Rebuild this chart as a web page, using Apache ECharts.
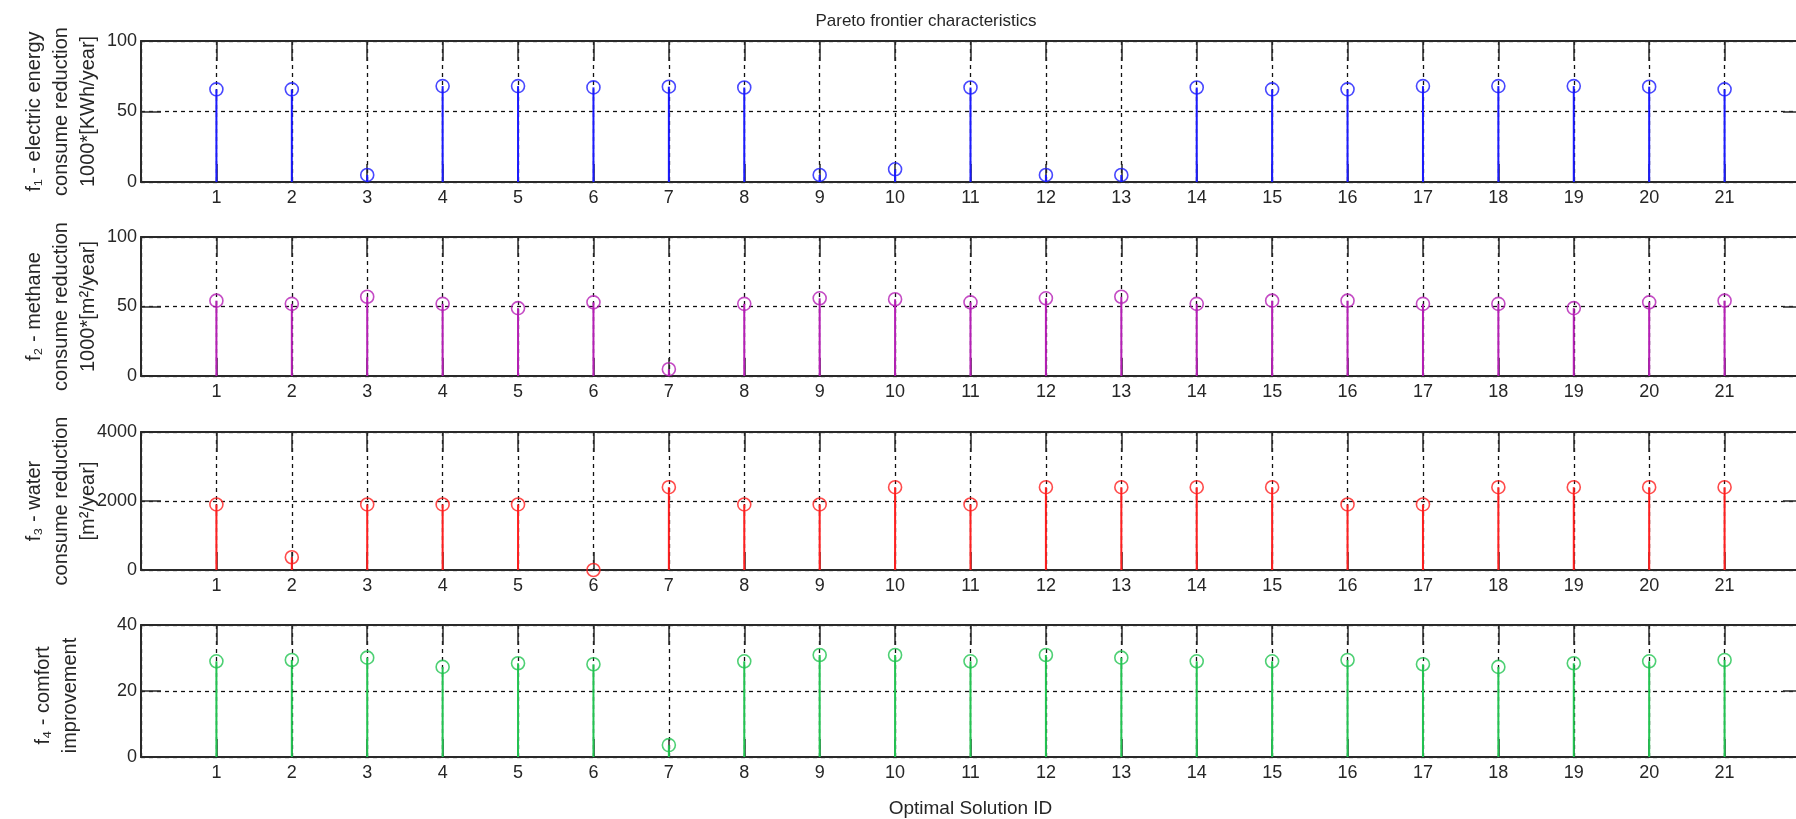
<!DOCTYPE html>
<html>
<head>
<meta charset="utf-8">
<script src="https://cdn.jsdelivr.net/npm/echarts@6/dist/echarts.min.js"></script>
<style>
html,body{margin:0;padding:0;background:#fff;overflow:hidden;width:1796px;height:819px;}
#chart{width:1820px;height:819px;}
</style>
</head>
<body>
<div id="chart"></div>
<script>
// ---- data ----
const ids = [1,2,3,4,5,6,7,8,9,10,11,12,13,14,15,16,17,18,19,20,21];
const f1 = [65.7,65.7,5,68,68,67.1,67.6,67,5,9,67,5,5,67,65.7,65.7,68,68,68,67.6,65.7];
const f2 = [54.2,51.9,57,51.9,48.8,53,4.9,51.9,55.9,55.2,53,55.9,57,51.9,54.2,54.2,51.9,51.9,48.8,53,54.2];
const f3 = [1900,370,1900,1900,1900,0,2400,1900,1900,2400,1900,2400,2400,2400,2400,1900,1900,2400,2400,2400,2400];
const f4 = [29,29.4,30.1,27.3,28.4,28.1,3.6,29,30.9,30.9,29,30.9,30.1,29,29,29.4,28.1,27.3,28.4,29,29.4];
const yMax = [100, 100, 4000, 40];
const yStep = [50, 50, 2000, 20];
const yNames = [
  'f\u2081 - electric energy\nconsume reduction\n1000*[KWh/year]',
  'f\u2082 - methane\nconsume reduction\n1000*[m\u00B2/year]',
  'f\u2083 - water\nconsume reduction\n[m\u00B2/year]',
  'f\u2084 - comfort\nimprovement'
];
const colors = ['#1a1aff', '#b51eb5', '#ff1f1f', '#22c451'];
const titleText = 'Pareto frontier characteristics';
const xName = 'Optimal Solution ID';

// ---- layout ----
const tops = [41, 237, 432, 625];
const heights = [141, 139, 138, 141];
const gridLeft = 141, gridWidth = 1659;
const FONT = '"Liberation Sans", Arial, sans-serif';
const txt = '#262626';
const axisCol = '#2a2a2a';

const values = [f1, f2, f3, f4];
const grid = [], xAxis = [], yAxis = [], series = [], graphic = [];

for (let i = 0; i < 4; i++) {
  grid.push({left: gridLeft, width: gridWidth, top: tops[i], height: heights[i], containLabel: false});
  const isLast = i === 3;
  xAxis.push({
    type: 'value', gridIndex: i, position: 'bottom', min: 0, max: 22, interval: 1,
    axisLine: {show: true, onZero: false, lineStyle: {color: axisCol, width: 2}},
    axisTick: {show: true, inside: true, length: 18, lineStyle: {color: axisCol, width: 1.5}},
    axisLabel: {show: true, margin: 7, fontSize: 18, fontFamily: FONT, color: txt,
      formatter: v => (v >= 1 && v <= 21) ? String(v) : ''},
    splitLine: {show: true, lineStyle: {color: '#111', width: 1.3, type: [4, 4]}},
    name: isLast ? xName : '', nameLocation: 'middle', nameGap: 42,
    nameTextStyle: {fontSize: 19, fontFamily: FONT, color: txt}
  });
  xAxis.push({
    type: 'value', gridIndex: i, position: 'top', min: 0, max: 22, interval: 1,
    axisLine: {show: true, onZero: false, lineStyle: {color: axisCol, width: 2}},
    axisTick: {show: true, inside: true, length: 20, lineStyle: {color: axisCol, width: 1.5}},
    axisLabel: {show: false}, splitLine: {show: false}
  });
  yAxis.push({
    type: 'value', gridIndex: i, position: 'left', min: 0, max: yMax[i], interval: yStep[i],
    axisLine: {show: true, onZero: false, lineStyle: {color: axisCol, width: 2}},
    axisTick: {show: true, inside: true, length: 20, lineStyle: {color: axisCol, width: 1.5}},
    axisLabel: {show: true, margin: 4, fontSize: 18, fontFamily: FONT, color: txt,
      formatter: v => String(v)},
    splitLine: {show: true, lineStyle: {color: '#111', width: 1.3, type: [4, 4]}}
  });
  yAxis.push({
    type: 'value', gridIndex: i, position: 'right', min: 0, max: yMax[i], interval: yStep[i],
    axisLine: {show: true, onZero: false, lineStyle: {color: axisCol, width: 2}},
    axisTick: {show: true, inside: true, length: 17, lineStyle: {color: axisCol, width: 1.5}},
    axisLabel: {show: false}, splitLine: {show: false}
  });
  const pts = ids.map((id, k) => [id, values[i][k]]);
  series.push({
    type: 'bar', xAxisIndex: 2 * i, yAxisIndex: 2 * i, data: pts, barWidth: 2,
    itemStyle: {color: colors[i]}, silent: true, z: 3
  });
  series.push({
    type: 'scatter', xAxisIndex: 2 * i, yAxisIndex: 2 * i, data: pts, symbol: 'circle', symbolSize: 13,
    clip: false,
    itemStyle: {color: 'rgba(0,0,0,0)', borderColor: colors[i], borderWidth: 1.6}, silent: true, z: 4
  });
  const nLines = yNames[i].split('\n').length;
  graphic.push({
    type: 'text', x: nLines === 3 ? 61 : 57, y: tops[i] + heights[i] / 2, rotation: Math.PI / 2,
    style: {text: yNames[i], font: '20px ' + FONT, fill: txt, align: 'center', verticalAlign: 'middle',
      lineHeight: 27}
  });
}

const chart = echarts.init(document.getElementById('chart'), null, {renderer: 'canvas'});
chart.setOption({
  backgroundColor: '#fff',
  animation: false,
  title: {text: titleText, left: 921, top: 8, textAlign: 'center',
    textStyle: {fontSize: 17, fontWeight: 'normal', fontFamily: FONT, color: txt}},
  grid, xAxis, yAxis, series, graphic
});
</script>
</body>
</html>
